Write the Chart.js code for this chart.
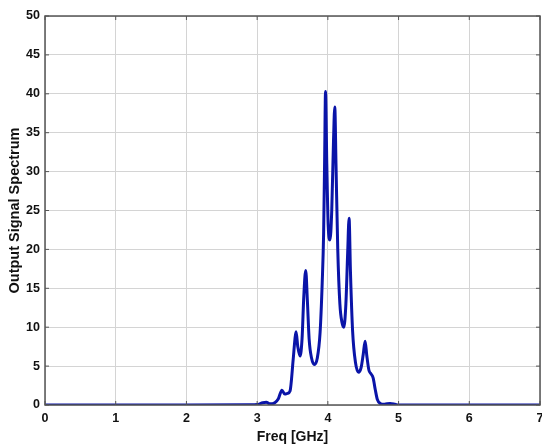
<!DOCTYPE html>
<html>
<head>
<meta charset="utf-8">
<script src="https://cdn.jsdelivr.net/npm/chart.js"></script>
<style>
  html, body { margin: 0; padding: 0; background: #fff; }
  #wrap { width: 542px; height: 446px; }
</style>
</head>
<body>
<div id="wrap"><canvas id="myChart" width="542" height="446"></canvas></div>
<script>
// spectrum samples (GHz, amplitude)
const freq = [
  0, 1, 2, 2.9, 3.0, 3.08, 3.13, 3.18, 3.25, 3.30, 3.35, 3.39, 3.43, 3.465,
  3.51, 3.535, 3.55, 3.575, 3.607, 3.635, 3.66, 3.687, 3.71, 3.735, 3.77,
  3.81, 3.85, 3.89, 3.92, 3.94, 3.955, 3.967, 3.985, 4.005, 4.03, 4.055,
  4.08, 4.098, 4.115, 4.14, 4.17, 4.20, 4.225, 4.255, 4.28, 4.30, 4.32,
  4.35, 4.39, 4.435, 4.47, 4.50, 4.527, 4.55, 4.58, 4.61, 4.64, 4.67,
  4.70, 4.74, 4.80, 4.88, 4.95, 5.0, 6, 7
];
const spectrum = [
  0, 0, 0, 0.02, 0.05, 0.3, 0.35, 0.15, 0.3, 0.8, 1.9, 1.4, 1.5, 1.8,
  5.9, 8.5, 9.4, 7.5, 6.3, 8.5, 14.0, 17.3, 13.5, 8.5, 6.0,
  5.2, 6.0, 9.3, 15.7, 22, 32, 40.3, 31, 23, 21.2, 25,
  34, 38.3, 31, 20, 13, 10.6, 10.0, 13, 19.5, 24.0, 17,
  9.5, 5.5, 4.2, 4.8, 6.5, 8.2, 6.4, 4.5, 4.0, 3.5, 2.0,
  0.7, 0.2, 0.1, 0.2, 0.1, 0, 0, 0
];
const xTicks = [0, 1, 2, 3, 4, 5, 6, 7];
const yTicks = [0, 5, 10, 15, 20, 25, 30, 35, 40, 45, 50];

const points = freq.map((f, i) => ({ x: f, y: spectrum[i] }));

// box around the plot area with inward ticks
const boxPlugin = {
  id: 'box',
  afterDraw(chart) {
    const { ctx, chartArea: a, scales } = chart;
    ctx.save();
    ctx.strokeStyle = '#555';
    ctx.lineWidth = 1.5;
    ctx.strokeRect(a.left, a.top, a.right - a.left, a.bottom - a.top);
    ctx.lineWidth = 1;
    ctx.beginPath();
    xTicks.forEach(t => {
      const px = scales.x.getPixelForValue(t);
      ctx.moveTo(px, a.bottom); ctx.lineTo(px, a.bottom - 4);
      ctx.moveTo(px, a.top); ctx.lineTo(px, a.top + 4);
    });
    yTicks.forEach(t => {
      const py = scales.y.getPixelForValue(t);
      ctx.moveTo(a.left, py); ctx.lineTo(a.left + 4, py);
      ctx.moveTo(a.right, py); ctx.lineTo(a.right - 4, py);
    });
    ctx.stroke();
    ctx.restore();
  }
};

const tickFont = { family: 'Liberation Sans, Arial, sans-serif', size: 12.5, weight: 'bold' };

new Chart(document.getElementById('myChart').getContext('2d'), {
  type: 'line',
  data: {
    datasets: [{
      data: points,
      borderColor: '#0a14a8',
      borderWidth: 3,
      pointRadius: 0,
      fill: false,
      cubicInterpolationMode: 'monotone'
    }]
  },
  options: {
    responsive: false,
    animation: false,
    plugins: { legend: { display: false }, tooltip: { enabled: false } },
    layout: { padding: { top: 16, right: 2, left: 0, bottom: 0 } },
    scales: {
      x: {
        type: 'linear',
        min: 0, max: 7,
        afterBuildTicks: s => { s.ticks = xTicks.map(v => ({ value: v })); },
        afterFit: s => { s.height = 41; s.paddingLeft = 0; s.paddingRight = 0; },
        grid: { color: '#d4d4d4', drawTicks: false },
        border: { display: false },
        ticks: { color: '#111', font: tickFont, padding: 6, maxRotation: 0 },
        title: {
          display: true, text: 'Freq [GHz]', color: '#111',
          font: { family: 'Liberation Sans, Arial, sans-serif', size: 14, weight: 'bold' },
          padding: { top: 0, bottom: 0 }
        }
      },
      y: {
        min: 0, max: 50,
        afterBuildTicks: s => { s.ticks = yTicks.map(v => ({ value: v })); },
        afterFit: s => { s.width = 45; s.paddingTop = 0; s.paddingBottom = 0; },
        grid: { color: '#d4d4d4', drawTicks: false },
        border: { display: false },
        ticks: { color: '#111', font: tickFont, padding: 5 },
        title: {
          display: true, text: 'Output Signal Spectrum', color: '#111',
          font: { family: 'Liberation Sans, Arial, sans-serif', size: 14.5, weight: 'bold' },
          padding: { top: 6, bottom: 0 }
        }
      }
    }
  },
  plugins: [boxPlugin]
});
</script>
</body>
</html>
